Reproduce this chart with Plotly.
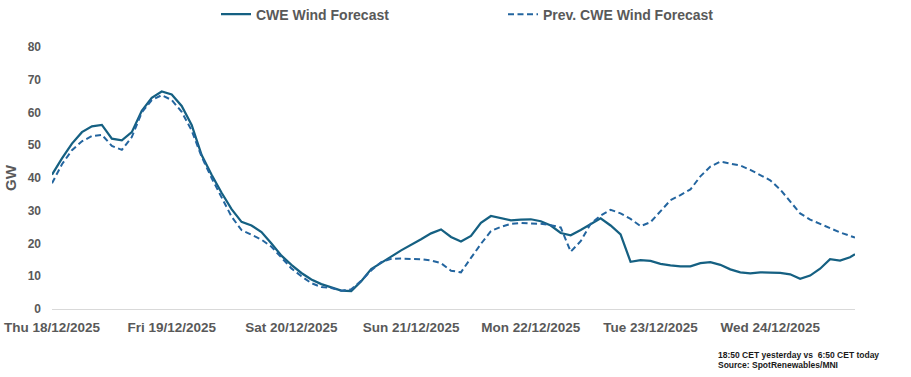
import pandas as pd
import plotly.graph_objects as go

# ---- data ----
start_date = "2025-12-18 00:00"
hours = [0, 2, 4, 6, 8, 10, 12, 14, 16, 18, 20, 22, 24, 26, 28, 30, 32, 34, 36, 38,
         40, 42, 44, 46, 48, 50, 52, 54, 56, 58, 60, 62, 64, 66, 68, 70, 72, 74, 76, 78,
         80, 82, 84, 86, 88, 90, 92, 94, 96, 98, 100, 102, 104, 106, 108, 110, 112, 114, 116, 118,
         120, 122, 124, 126, 128, 130, 132, 134, 136, 138, 140, 142, 144, 146, 148, 150, 152, 154, 156, 158,
         160, 161]

cwe_forecast = [41.0, 46.0, 50.5, 54.0, 55.8, 56.2, 52.0, 51.5, 54.0, 60.5,
                64.5, 66.4, 65.5, 62.0, 56.2, 47.0, 41.0, 35.5, 30.5, 26.6,
                25.5, 23.5, 20.0, 16.3, 13.5, 11.0, 9.0, 7.6, 6.6, 5.6,
                5.5, 8.5, 12.2, 14.2, 16.0, 17.9, 19.5, 21.3, 23.1, 24.3,
                22.0, 20.6, 22.3, 26.3, 28.4, 27.8, 27.1, 27.3, 27.4, 26.8,
                25.5, 23.2, 22.5, 24.1, 26.0, 27.7, 25.5, 22.8, 14.4, 14.9,
                14.7, 13.8, 13.3, 13.0, 13.0, 14.0, 14.3, 13.5, 12.1, 11.2,
                10.9, 11.2, 11.1, 11.0, 10.6, 9.2, 10.2, 12.3, 15.2, 14.8,
                15.8, 16.7]

prev_forecast = [38.4, 44.2, 48.5, 51.2, 52.8, 53.2, 49.8, 48.6, 52.5, 60.0,
                 63.8, 65.3, 63.8, 60.2, 54.5, 46.5, 40.0, 34.0, 28.2, 24.1,
                 22.7, 21.2, 19.0, 15.6, 12.4, 10.0, 7.9, 6.7, 6.4, 5.6,
                 6.0, 8.6, 11.8, 14.3, 15.3, 15.4, 15.4, 15.2, 14.8, 14.0,
                 11.7, 11.2, 15.6, 19.9, 23.8, 25.1, 26.0, 26.3, 26.1, 26.0,
                 25.6, 24.9, 17.5, 20.7, 26.0, 28.5, 30.3, 29.2, 27.5, 25.3,
                 26.5, 30.0, 33.2, 34.8, 36.5, 40.5, 43.5, 45.0, 44.4, 43.8,
                 42.5, 41.0, 39.3, 36.5, 33.0, 29.2, 27.3, 26.1, 24.7, 23.4,
                 22.2, 21.8]

day_ticks = ["2025-12-18", "2025-12-19", "2025-12-20", "2025-12-21",
             "2025-12-22", "2025-12-23", "2025-12-24"]
day_labels = ["Thu 18/12/2025", "Fri 19/12/2025", "Sat 20/12/2025", "Sun 21/12/2025",
              "Mon 22/12/2025", "Tue 23/12/2025", "Wed 24/12/2025"]

series_names = ["CWE Wind Forecast", "Prev. CWE Wind Forecast"]
y_title = "GW"
footnote_lines = ["18:50 CET yesterday vs  6:50 CET today", "Source: SpotRenewables/MNI"]

# ---- build ----
times = pd.Timestamp(start_date) + pd.to_timedelta(hours, unit="h")

FONT = "Liberation Sans, Arial, sans-serif"
GREY = "#595959"

W, H = 911, 377
PL, PR, PT, PB = 52, 855, 47.3, 308.6
PH = PB - PT
PW = PR - PL


def py(page_y):
    return (PB - page_y) / PH


def px(page_x):
    return (page_x - PL) / PW


fig = go.Figure()
fig.add_trace(go.Scatter(
    x=times, y=cwe_forecast, mode="lines", name=series_names[0],
    line=dict(color="#156082", width=2.25), legend="legend"))
fig.add_trace(go.Scatter(
    x=times, y=prev_forecast, mode="lines", name=series_names[1],
    line=dict(color="#23659F", width=2, dash="6px,3.5px"), legend="legend2"))

legend_common = dict(orientation="h", yanchor="middle", y=py(15), xanchor="left",
                     bgcolor="rgba(0,0,0,0)", itemwidth=30,
                     font=dict(family=FONT, size=14, color=GREY, weight="bold"))

fig.update_layout(
    width=W, height=H,
    margin=dict(l=PL, r=W - PR, t=PT, b=H - PB, autoexpand=False),
    paper_bgcolor="white", plot_bgcolor="white",
    font=dict(family=FONT, color=GREY),
    showlegend=True,
    legend=dict(**legend_common, x=px(216)),
    legend2=dict(**legend_common, x=px(503)),
    xaxis=dict(
        type="date", automargin=False,
        range=[times[0], times[-1]],
        tickvals=pd.to_datetime(day_ticks), ticktext=day_labels,
        showgrid=False, zeroline=False,
        showline=True, linecolor="#D9D9D9", linewidth=1,
        ticks="", ticklabelstandoff=6, ticklabeloverflow="allow",
        tickfont=dict(family=FONT, size=13.5, color=GREY, weight="bold"),
    ),
    yaxis=dict(
        automargin=False,
        range=[0, 80], dtick=10, tick0=0,
        showgrid=False, zeroline=False, showline=False,
        ticks="", ticklabelstandoff=10,
        tickfont=dict(family=FONT, size=12, color=GREY, weight="bold"),
        title=dict(text=y_title, standoff=7,
                   font=dict(family=FONT, size=15, color=GREY, weight="bold")),
    ),
)

for i, line in enumerate(footnote_lines):
    fig.add_annotation(
        xref="paper", yref="paper", x=px(716), y=py(354 + 10 * i),
        xanchor="left", yanchor="middle", align="left", showarrow=False,
        text=line,
        font=dict(family=FONT, size=8.5, color="#1a1a1a", weight="bold"),
    )

fig.write_html("out.html", config={"displayModeBar": False},
               post_script="document.body.style.margin='0px';")
